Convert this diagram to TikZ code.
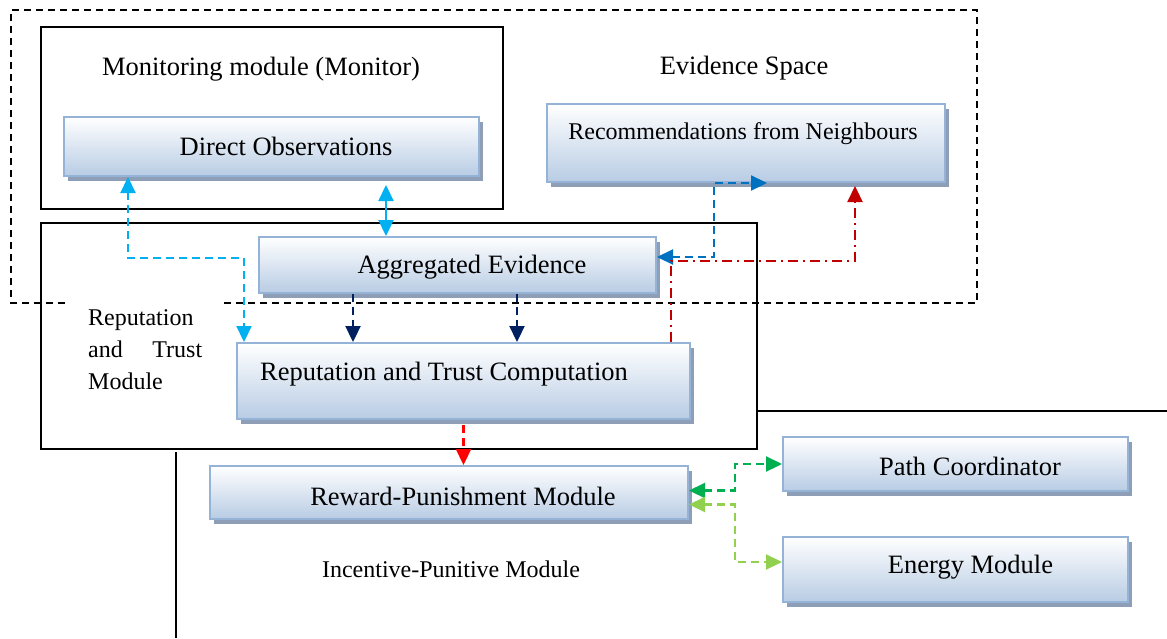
\documentclass[tikz,border=0pt]{standalone}
\usepackage{fontspec}
\setmainfont{Liberation Serif}
\usetikzlibrary{arrows.meta,shadows}

\definecolor{boxblue}{RGB}{184,204,228}
\definecolor{boxedge}{RGB}{149,179,215}
\definecolor{boxshade}{RGB}{142,158,182}
\definecolor{lnkcyan}{RGB}{0,176,240}
\definecolor{lnknavy}{RGB}{0,32,96}
\definecolor{lnkblue}{RGB}{0,112,192}
\definecolor{lnkdarkred}{RGB}{192,0,0}
\definecolor{lnkred}{RGB}{255,0,0}
\definecolor{lnkgreen}{RGB}{0,176,80}
\definecolor{lnklime}{RGB}{146,208,80}

\begin{document}
\begin{tikzpicture}[x=1pt,y=-1pt,>={Triangle[length=16pt,width=15pt]},
  box/.style={draw=boxedge, line width=2pt, top color=white, bottom color=boxblue, inner sep=0pt,
    drop shadow={shadow xshift=4pt, shadow yshift=-5pt, fill=boxshade, opacity=1}},
  big/.style={font=\fontsize{26.5}{30}\selectfont, inner sep=0pt},
  small/.style={font=\fontsize{24}{32}\selectfont, inner sep=0pt},
  wire/.style={line width=2.2pt, dash pattern=on 8pt off 5pt},
  frame/.style={line width=1.5pt}]

\useasboundingbox (0,0) rectangle (1167,638);

\draw[frame, dash pattern=on 7pt off 5pt] (65,303) -- (11,303) -- (11,10) -- (977,10) -- (977,303) -- (222,303);
\draw[frame] (41,27) rectangle (503,209);
\draw[frame] (41,223) rectangle (757,449);
\draw[frame] (757,411) -- (1167,411);
\draw[frame] (176,452) -- (176,638);

\node[big] (montitle) at (261,69) {Monitoring module (Monitor)};
\node[big] (evtitle) at (744,68) {Evidence Space};
\node[small, align=left, anchor=north west] (rtmtitle) at (88,309) {Reputation\\ \makebox[114pt][s]{and Trust}\\ Module};
\node[small] (iptitle) at (451,569) {Incentive-Punitive Module};

\node[box, minimum width=415pt, minimum height=59pt, label={[big, xshift=14.5pt, yshift=0pt]center:Direct Observations}] (obs) at (271.5,146.5) {};
\node[box, minimum width=397pt, minimum height=56pt, label={[big, xshift=14.5pt, yshift=-2pt]center:Aggregated Evidence}] (agg) at (457.5,265) {};
\node[box, minimum width=398pt, minimum height=78pt, label={[small, xshift=-3pt, yshift=9pt]center:Recommendations from Neighbours}] (recom) at (746,143) {};
\node[box, minimum width=453pt, minimum height=76pt, label={[big, xshift=-19.5pt, yshift=6.5pt]center:Reputation and Trust Computation}] (rtc) at (463.5,381) {};
\node[box, minimum width=478pt, minimum height=53pt, label={[big, xshift=14pt, yshift=-3.5pt]center:Reward-Punishment Module}] (rewpun) at (449,492.5) {};
\node[box, minimum width=345pt, minimum height=54pt, label={[big, xshift=14.5pt, yshift=-2pt]center:Path Coordinator}] (pathco) at (955.5,464) {};
\node[box, minimum width=345pt, minimum height=65pt, label={[big, xshift=15pt, yshift=2pt]center:Energy Module}] (energy) at (955.5,569.5) {};

\draw[wire, lnkcyan, <->] ([xshift=65pt]obs.south west) -- ++(0,81) -| ([xshift=8pt]rtc.north west);
\draw[line width=2.2pt, lnkcyan, <->] ([xshift=323pt,yshift=-8pt]obs.south west) -- ([xshift=128pt]agg.north west);
\draw[wire, lnknavy, ->] ([xshift=95pt]agg.south west) -- ([xshift=117pt]rtc.north west);
\draw[wire, lnknavy, ->] ([xshift=259pt]agg.south west) -- ([xshift=281pt]rtc.north west);
\draw[wire, lnkblue, <->] ([yshift=8pt]agg.east) -- ++(57,0) |- ([xshift=221pt]recom.south west);
\draw[line width=2.2pt, lnkdarkred, dash pattern=on 10pt off 5pt on 2pt off 5pt, ->] ([xshift=-20pt]rtc.north east) -- ++(0,-81) -| ([xshift=309pt,yshift=-3pt]recom.south west);
\draw[wire, lnkred, ->] ([yshift=-5pt]rtc.south) -- (rtc.south |- rewpun.north);
\draw[wire, lnkgreen, <->] ([yshift=2pt]rewpun.east) -- ++(46,0) |- (pathco.west);
\draw[wire, lnklime, <->] ([yshift=-12pt]rewpun.east) -- ++(46,0) |- ([yshift=7.5pt]energy.west);

\end{tikzpicture}
\end{document}
